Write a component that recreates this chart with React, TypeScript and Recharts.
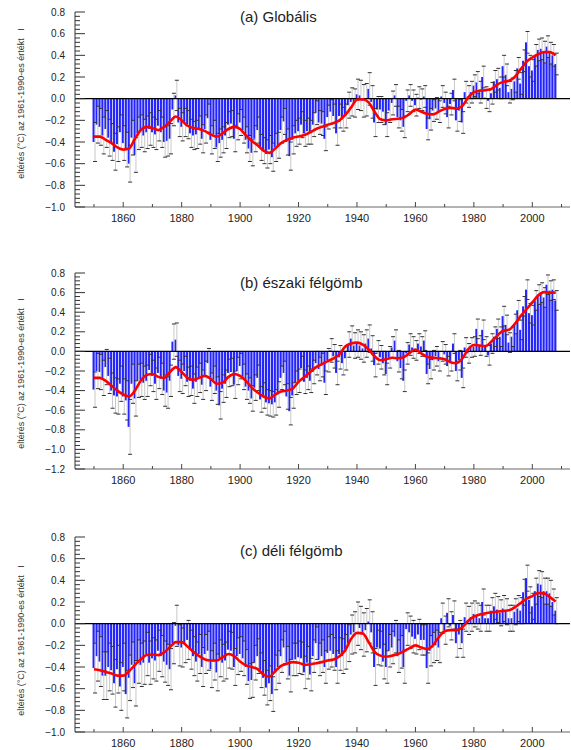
import { ComposedChart, Bar, Line, XAxis, YAxis, ReferenceLine } from 'recharts';

// yearly anomalies 1850..2008, smoothed curve on even years 1850..2008
const FIRST_YEAR = 1850;

const GLOBAL_VALUES = [
  -0.40, -0.24, -0.26, -0.34, -0.28, -0.36, -0.40, -0.49, -0.42, -0.31,
  -0.41, -0.47, -0.60, -0.36, -0.52, -0.32, -0.30, -0.34, -0.31, -0.28,
  -0.31, -0.33, -0.25, -0.31, -0.40, -0.39, -0.37, -0.10, 0.03, -0.22,
  -0.26, -0.22, -0.24, -0.32, -0.34, -0.33, -0.29, -0.37, -0.28, -0.18,
  -0.38, -0.33, -0.45, -0.41, -0.38, -0.34, -0.24, -0.23, -0.37, -0.26,
  -0.22, -0.29, -0.38, -0.46, -0.50, -0.37, -0.29, -0.45, -0.48, -0.51,
  -0.47, -0.54, -0.45, -0.43, -0.29, -0.21, -0.40, -0.53, -0.38, -0.32,
  -0.30, -0.24, -0.32, -0.30, -0.31, -0.24, -0.13, -0.22, -0.23, -0.37,
  -0.17, -0.12, -0.16, -0.32, -0.16, -0.19, -0.16, -0.06, -0.03, -0.04,
  0.04, 0.03, -0.02, -0.01, 0.09, -0.03, -0.22, -0.10, -0.10, -0.12,
  -0.24, -0.11, -0.04, 0.03, -0.17, -0.20, -0.26, -0.02, 0.03, -0.02,
  -0.06, 0.01, -0.01, 0.02, -0.28, -0.19, -0.11, -0.09, -0.12, 0.02,
  -0.04, -0.17, -0.05, 0.08, -0.20, -0.11, -0.22, 0.06, 0.02, 0.06,
  0.12, 0.15, 0.06, 0.20, 0.01, -0.02, 0.05, 0.16, 0.18, 0.10,
  0.30, 0.22, 0.06, 0.09, 0.16, 0.28, 0.14, 0.35, 0.52, 0.30,
  0.26, 0.40, 0.45, 0.46, 0.43, 0.48, 0.42, 0.40, 0.32,
];

const GLOBAL_ERR = [
  0.18, 0.17, 0.17, 0.17, 0.17, 0.17, 0.17, 0.17, 0.16, 0.16,
  0.16, 0.16, 0.17, 0.16, 0.16, 0.15, 0.15, 0.15, 0.15, 0.15,
  0.14, 0.14, 0.14, 0.14, 0.14, 0.14, 0.14, 0.15, 0.14, 0.13,
  0.13, 0.13, 0.13, 0.13, 0.13, 0.13, 0.13, 0.13, 0.13, 0.13,
  0.13, 0.13, 0.13, 0.13, 0.12, 0.12, 0.12, 0.12, 0.12, 0.12,
  0.12, 0.12, 0.12, 0.12, 0.12, 0.12, 0.12, 0.12, 0.12, 0.13,
  0.13, 0.13, 0.13, 0.12, 0.12, 0.12, 0.12, 0.13, 0.13, 0.12,
  0.12, 0.12, 0.12, 0.12, 0.11, 0.11, 0.11, 0.11, 0.11, 0.11,
  0.11, 0.11, 0.11, 0.11, 0.11, 0.11, 0.11, 0.12, 0.13, 0.13,
  0.14, 0.14, 0.15, 0.15, 0.15, 0.15, 0.13, 0.12, 0.12, 0.12,
  0.11, 0.11, 0.11, 0.10, 0.10, 0.10, 0.10, 0.10, 0.10, 0.10,
  0.10, 0.10, 0.10, 0.10, 0.10, 0.10, 0.10, 0.10, 0.10, 0.10,
  0.10, 0.10, 0.10, 0.10, 0.10, 0.10, 0.10, 0.10, 0.10, 0.10,
  0.10, 0.10, 0.10, 0.10, 0.10, 0.10, 0.10, 0.10, 0.10, 0.10,
  0.10, 0.10, 0.10, 0.10, 0.10, 0.10, 0.10, 0.10, 0.10, 0.10,
  0.10, 0.10, 0.10, 0.10, 0.10, 0.10, 0.10, 0.10, 0.10,
];

const GLOBAL_SMOOTH = [
  -0.35, -0.35, -0.38, -0.41, -0.45, -0.47, -0.46, -0.37, -0.29, -0.26,
  -0.27, -0.29, -0.26, -0.21, -0.165, -0.20, -0.25, -0.27, -0.28, -0.30,
  -0.33, -0.35, -0.32, -0.28, -0.26, -0.28, -0.34, -0.39, -0.43, -0.48,
  -0.50, -0.46, -0.41, -0.38, -0.36, -0.35, -0.335, -0.31, -0.28, -0.26,
  -0.24, -0.225, -0.20, -0.15, -0.08, -0.01, -0.005, -0.035, -0.12, -0.19,
  -0.20, -0.19, -0.185, -0.175, -0.14, -0.10, -0.12, -0.14, -0.145, -0.12,
  -0.095, -0.085, -0.09, -0.07, 0.01, 0.06, 0.074, 0.078, 0.09, 0.13,
  0.155, 0.165, 0.20, 0.27, 0.34, 0.38, 0.41, 0.43, 0.43, 0.40,
];

const NH_VALUES = [
  -0.39, -0.20, -0.21, -0.27, -0.16, -0.25, -0.40, -0.45, -0.46, -0.33,
  -0.46, -0.50, -0.77, -0.33, -0.48, -0.30, -0.29, -0.32, -0.30, -0.19,
  -0.25, -0.33, -0.22, -0.28, -0.40, -0.42, -0.30, 0.10, 0.12, -0.25,
  -0.28, -0.20, -0.31, -0.30, -0.38, -0.31, -0.27, -0.34, -0.25, -0.12,
  -0.36, -0.29, -0.40, -0.55, -0.38, -0.33, -0.22, -0.21, -0.34, -0.20,
  -0.15, -0.26, -0.36, -0.40, -0.48, -0.37, -0.27, -0.49, -0.45, -0.52,
  -0.53, -0.54, -0.52, -0.44, -0.27, -0.22, -0.46, -0.61, -0.45, -0.32,
  -0.30, -0.17, -0.31, -0.27, -0.30, -0.21, -0.12, -0.18, -0.14, -0.32,
  -0.09, 0.01, -0.05, -0.22, -0.06, -0.12, -0.07, 0.07, 0.13, 0.06,
  0.08, 0.06, 0.03, 0.08, 0.13, 0.03, -0.14, -0.01, -0.06, -0.12,
  -0.23, -0.06, 0.04, 0.11, -0.10, -0.17, -0.30, -0.02, 0.07, 0.04,
  0.01, 0.08, 0.05, 0.11, -0.23, -0.18, -0.09, -0.05, -0.10, 0.00,
  -0.03, -0.15, -0.10, 0.08, -0.20, -0.09, -0.27, 0.04, -0.02, 0.04,
  0.05, 0.23, 0.06, 0.22, 0.05, -0.04, 0.08, 0.15, 0.23, 0.15,
  0.36, 0.27, 0.09, 0.15, 0.28, 0.42, 0.22, 0.46, 0.63, 0.39,
  0.37, 0.52, 0.58, 0.60, 0.55, 0.68, 0.62, 0.63, 0.52,
];

const NH_ERR = [
  0.18, 0.18, 0.18, 0.18, 0.18, 0.18, 0.18, 0.18, 0.18, 0.18,
  0.18, 0.20, 0.28, 0.20, 0.18, 0.17, 0.17, 0.17, 0.16, 0.16,
  0.16, 0.16, 0.16, 0.16, 0.16, 0.16, 0.16, 0.18, 0.17, 0.16,
  0.15, 0.15, 0.15, 0.15, 0.15, 0.15, 0.15, 0.15, 0.15, 0.15,
  0.14, 0.14, 0.14, 0.14, 0.14, 0.14, 0.14, 0.14, 0.14, 0.14,
  0.13, 0.13, 0.13, 0.13, 0.13, 0.13, 0.13, 0.13, 0.13, 0.13,
  0.13, 0.13, 0.13, 0.13, 0.12, 0.12, 0.13, 0.14, 0.13, 0.12,
  0.12, 0.12, 0.12, 0.12, 0.12, 0.12, 0.12, 0.12, 0.12, 0.12,
  0.12, 0.12, 0.12, 0.12, 0.12, 0.12, 0.12, 0.13, 0.13, 0.13,
  0.14, 0.14, 0.14, 0.14, 0.14, 0.13, 0.12, 0.12, 0.12, 0.12,
  0.11, 0.11, 0.11, 0.11, 0.11, 0.11, 0.11, 0.11, 0.11, 0.11,
  0.10, 0.10, 0.10, 0.10, 0.10, 0.10, 0.10, 0.10, 0.10, 0.10,
  0.10, 0.10, 0.10, 0.10, 0.10, 0.10, 0.10, 0.10, 0.10, 0.10,
  0.10, 0.10, 0.10, 0.10, 0.10, 0.10, 0.10, 0.10, 0.10, 0.10,
  0.10, 0.10, 0.10, 0.10, 0.10, 0.10, 0.10, 0.10, 0.10, 0.10,
  0.10, 0.10, 0.10, 0.10, 0.10, 0.10, 0.10, 0.10, 0.10,
];

const NH_SMOOTH = [
  -0.27, -0.27, -0.30, -0.35, -0.40, -0.44, -0.46, -0.40, -0.30, -0.24,
  -0.23, -0.26, -0.27, -0.21, -0.16, -0.21, -0.27, -0.29, -0.27, -0.25,
  -0.28, -0.33, -0.32, -0.26, -0.23, -0.25, -0.30, -0.37, -0.42, -0.46,
  -0.48, -0.44, -0.41, -0.40, -0.38, -0.31, -0.26, -0.21, -0.16, -0.13,
  -0.10, -0.07, -0.03, 0.05, 0.08, 0.09, 0.07, 0.02, -0.05, -0.09,
  -0.08, -0.065, -0.07, -0.06, -0.015, 0.02, -0.02, -0.055, -0.065, -0.07,
  -0.08, -0.11, -0.12, -0.075, 0.02, 0.065, 0.06, 0.055, 0.10, 0.16,
  0.21, 0.22, 0.28, 0.36, 0.43, 0.50, 0.57, 0.605, 0.60, 0.60,
];

const SH_VALUES = [
  -0.41, -0.30, -0.35, -0.48, -0.48, -0.40, -0.43, -0.55, -0.42, -0.58,
  -0.40, -0.65, -0.50, -0.38, -0.55, -0.35, -0.38, -0.36, -0.28, -0.36,
  -0.32, -0.34, -0.25, -0.30, -0.35, -0.38, -0.42, -0.18, -0.02, -0.20,
  -0.22, -0.18, -0.15, -0.24, -0.30, -0.35, -0.28, -0.40, -0.28, -0.25,
  -0.42, -0.35, -0.45, -0.32, -0.36, -0.34, -0.24, -0.25, -0.40, -0.30,
  -0.28, -0.32, -0.40, -0.53, -0.52, -0.36, -0.30, -0.43, -0.50, -0.59,
  -0.55, -0.65, -0.45, -0.40, -0.30, -0.22, -0.36, -0.48, -0.33, -0.33,
  -0.31, -0.32, -0.45, -0.36, -0.47, -0.30, -0.18, -0.33, -0.30, -0.40,
  -0.27, -0.25, -0.28, -0.40, -0.28, -0.30, -0.26, -0.18, -0.10, -0.08,
  0.00, -0.04, -0.10, -0.06, 0.02, -0.08, -0.40, -0.22, -0.23, -0.35,
  -0.40, -0.25, -0.22, -0.12, -0.30, -0.26, -0.40, -0.05, -0.08, -0.12,
  -0.14, -0.10, -0.15, -0.15, -0.41, -0.25, -0.22, -0.20, -0.22, 0.05,
  -0.06, 0.10, -0.02, 0.08, -0.18, -0.10, -0.18, 0.06, 0.03, 0.06,
  0.09, 0.07, 0.05, 0.20, 0.05, 0.05, 0.12, 0.16, 0.13, 0.10,
  0.14, 0.11, 0.05, 0.05, 0.11, 0.14, 0.12, 0.29, 0.42, 0.22,
  0.16, 0.30, 0.37, 0.36, 0.30, 0.30, 0.28, 0.20, 0.12,
];

const SH_ERR = [
  0.23, 0.23, 0.23, 0.22, 0.22, 0.22, 0.22, 0.22, 0.22, 0.22,
  0.22, 0.22, 0.21, 0.21, 0.21, 0.20, 0.20, 0.20, 0.20, 0.20,
  0.19, 0.19, 0.19, 0.19, 0.19, 0.19, 0.19, 0.19, 0.19, 0.19,
  0.18, 0.18, 0.18, 0.18, 0.18, 0.18, 0.18, 0.18, 0.18, 0.18,
  0.17, 0.17, 0.17, 0.17, 0.17, 0.17, 0.17, 0.17, 0.17, 0.17,
  0.16, 0.16, 0.16, 0.16, 0.16, 0.16, 0.16, 0.16, 0.16, 0.16,
  0.16, 0.16, 0.16, 0.15, 0.15, 0.15, 0.15, 0.15, 0.15, 0.15,
  0.15, 0.15, 0.15, 0.15, 0.15, 0.15, 0.15, 0.15, 0.15, 0.15,
  0.15, 0.15, 0.15, 0.15, 0.15, 0.16, 0.16, 0.17, 0.18, 0.19,
  0.20, 0.20, 0.20, 0.20, 0.20, 0.19, 0.17, 0.16, 0.16, 0.16,
  0.15, 0.15, 0.15, 0.15, 0.15, 0.15, 0.15, 0.15, 0.15, 0.15,
  0.14, 0.14, 0.14, 0.14, 0.14, 0.14, 0.14, 0.14, 0.14, 0.14,
  0.13, 0.13, 0.13, 0.13, 0.13, 0.13, 0.13, 0.13, 0.13, 0.13,
  0.12, 0.12, 0.12, 0.12, 0.12, 0.12, 0.12, 0.12, 0.12, 0.12,
  0.12, 0.12, 0.12, 0.12, 0.12, 0.12, 0.12, 0.12, 0.12, 0.12,
  0.12, 0.12, 0.12, 0.12, 0.12, 0.12, 0.12, 0.12, 0.12,
];

const SH_SMOOTH = [
  -0.42, -0.43, -0.445, -0.46, -0.48, -0.48, -0.44, -0.38, -0.33, -0.29,
  -0.285, -0.29, -0.265, -0.215, -0.17, -0.17, -0.21, -0.26, -0.30, -0.33,
  -0.34, -0.34, -0.31, -0.28, -0.30, -0.35, -0.385, -0.40, -0.42, -0.47,
  -0.49, -0.44, -0.39, -0.37, -0.355, -0.36, -0.38, -0.375, -0.365, -0.355,
  -0.34, -0.33, -0.30, -0.245, -0.14, -0.085, -0.09, -0.17, -0.26, -0.295,
  -0.305, -0.295, -0.28, -0.255, -0.225, -0.20, -0.22, -0.235, -0.20, -0.125,
  -0.07, -0.06, -0.06, -0.035, 0.025, 0.065, 0.085, 0.097, 0.105, 0.11,
  0.117, 0.123, 0.15, 0.19, 0.23, 0.255, 0.283, 0.28, 0.245, 0.205,
];

const X_LABELS = [1860, 1880, 1900, 1920, 1940, 1960, 1980, 2000];
const X_MINOR = [1850, 1870, 1890, 1910, 1930, 1950, 1970, 1990, 2010];
const X_TICKS = [...X_LABELS, ...X_MINOR].sort((a, b) => a - b);

const Y_LABELS_AC = [0.8, 0.6, 0.4, 0.2, 0.0, -0.2, -0.4, -0.6, -0.8, -1.0];
const Y_LABELS_B = [0.8, 0.6, 0.4, 0.2, 0.0, -0.2, -0.4, -0.6, -0.8, -1.0, -1.2];

const TITLES = ['(a) Globális', '(b) északi félgömb', '(c) déli félgömb'];
const Y_TITLE = 'eltérés (°C) az 1961-1990-es értékt\u00a0\u00a0\u00a0I';

const BLUE = '#2424ff';
const RED = '#ff0000';
const WHISKER = '#c8c8c8';
const CAP = '#333';
const FONT = '"Liberation Sans", Arial, Helvetica, sans-serif';

function buildRows(values: number[], errors: number[], smooth: number[]) {
  return values.map((v, i) => ({
    year: FIRST_YEAR + i,
    v,
    range: [v - errors[i], v + errors[i]],
    s: i % 2 === 0 ? smooth[i / 2] : null,
  }));
}

function yTicks(labels: number[]) {
  const lo = Math.min(...labels);
  const hi = Math.max(...labels);
  const out: number[] = [];
  for (let k = 0; lo + k * 0.04 <= hi + 1e-6; k++) out.push(Math.round((lo + k * 0.04) * 100) / 100);
  return out;
}

function fmt(v: number) {
  if (Math.abs(v) < 1e-6) return '0.0';
  return (v < 0 ? '\u2212' : '') + Math.abs(v).toFixed(1);
}

function makeYTick(labels: number[]) {
  return (props: any) => {
    const { x, y, payload } = props;
    const v = payload.value;
    const major = labels.some((l) => Math.abs(l - v) < 1e-6);
    return (
      <g>
        <line x1={x} x2={x + (major ? 10 : 5)} y1={y} y2={y} stroke="#333" strokeWidth={1} />
        {major && (
          <text x={x - 10} y={y} dy="0.35em" textAnchor="end" fontSize={10} fill="#222" fontFamily={FONT}>
            {fmt(v)}
          </text>
        )}
      </g>
    );
  };
}

function XTick(props: any) {
  const { x, y, payload } = props;
  const major = X_LABELS.includes(payload.value);
  return (
    <g>
      <line x1={x} x2={x} y1={y} y2={y - (major ? 5 : 3)} stroke="#444" strokeWidth={1} />
      {major && (
        <text x={x} y={y + 15} textAnchor="middle" fontSize={11} fill="#222" fontFamily={FONT}>
          {payload.value}
        </text>
      )}
    </g>
  );
}

// floating bar from low to high bound, drawn as whisker with caps
function Whisker(props: any) {
  const { x, y, width, height } = props;
  if (x == null || y == null) return null;
  const cx = x + width / 2;
  const y2 = y + height;
  return (
    <g>
      <line x1={cx} x2={cx} y1={y} y2={y2} stroke={WHISKER} strokeWidth={1} />
      <line x1={cx - 2} x2={cx + 2} y1={y} y2={y} stroke={CAP} strokeWidth={1} />
      <line x1={cx - 2} x2={cx + 2} y1={y2} y2={y2} stroke={CAP} strokeWidth={1} />
    </g>
  );
}

function Panel({ top, height, plotHeight, values, errors, smooth, labels }: any) {
  const data = buildRows(values, errors, smooth);
  const lo = Math.min(...labels);
  const hi = Math.max(...labels);
  return (
    <div style={{ position: 'absolute', left: 0, top }}>
      <ComposedChart
        width={571}
        height={height}
        data={data}
        margin={{ top: 12, right: 1, bottom: 0, left: 0 }}
        barGap={0}
      >
        <XAxis
          type="number"
          dataKey="year"
          domain={[1843.5, 2012.9]}
          allowDataOverflow
          ticks={X_TICKS}
          interval={0}
          tickSize={0}
          tickMargin={0}
          tick={XTick}
          height={height - 12 - plotHeight}
          axisLine={{ stroke: '#666' }}
        />
        <YAxis
          type="number"
          domain={[lo, hi]}
          allowDataOverflow
          ticks={yTicks(labels)}
          interval={0}
          tickSize={0}
          tickMargin={0}
          tick={makeYTick(labels)}
          width={75}
          axisLine={{ stroke: '#333' }}
        />
        <Bar dataKey="v" barSize={2.2} fill={BLUE} isAnimationActive={false} />
        <Bar dataKey="range" barSize={0.6} shape={Whisker} isAnimationActive={false} />
        <ReferenceLine y={0} stroke="#000" strokeWidth={1.3} />
        <Line
          type="monotone"
          dataKey="s"
          stroke={RED}
          strokeWidth={2.6}
          dot={false}
          activeDot={false}
          connectNulls
          isAnimationActive={false}
        />
      </ComposedChart>
    </div>
  );
}

export default function App() {
  return (
    <div
      style={{
        position: 'absolute',
        left: 0,
        top: 0,
        width: 571,
        height: 750,
        background: '#fff',
        fontFamily: FONT,
        overflow: 'hidden',
      }}
    >
      <Panel top={0} height={240} plotHeight={195} values={GLOBAL_VALUES} errors={GLOBAL_ERR} smooth={GLOBAL_SMOOTH} labels={Y_LABELS_AC} />
      <Panel top={261} height={240} plotHeight={196} values={NH_VALUES} errors={NH_ERR} smooth={NH_SMOOTH} labels={Y_LABELS_B} />
      <Panel top={525} height={225} plotHeight={195} values={SH_VALUES} errors={SH_ERR} smooth={SH_SMOOTH} labels={Y_LABELS_AC} />
      <svg
        width={571}
        height={750}
        style={{ position: 'absolute', left: 0, top: 0, pointerEvents: 'none' }}
      >
        <text x={240} y={22} fontSize={15} fill="#222" fontFamily={FONT}>{TITLES[0]}</text>
        <text x={240} y={288} fontSize={15} fill="#222" fontFamily={FONT}>{TITLES[1]}</text>
        <text x={240} y={556} fontSize={15} fill="#222" fontFamily={FONT}>{TITLES[2]}</text>
        {[103.5, 373.5, 640.5].map((cy, i) => (
          <text
            key={i}
            x={24}
            y={cy}
            fontSize={9}
            fill="#333"
            fontFamily={FONT}
            textAnchor="middle"
            transform={`rotate(-90 24 ${cy})`}
          >
            {Y_TITLE}
          </text>
        ))}
      </svg>
    </div>
  );
}
